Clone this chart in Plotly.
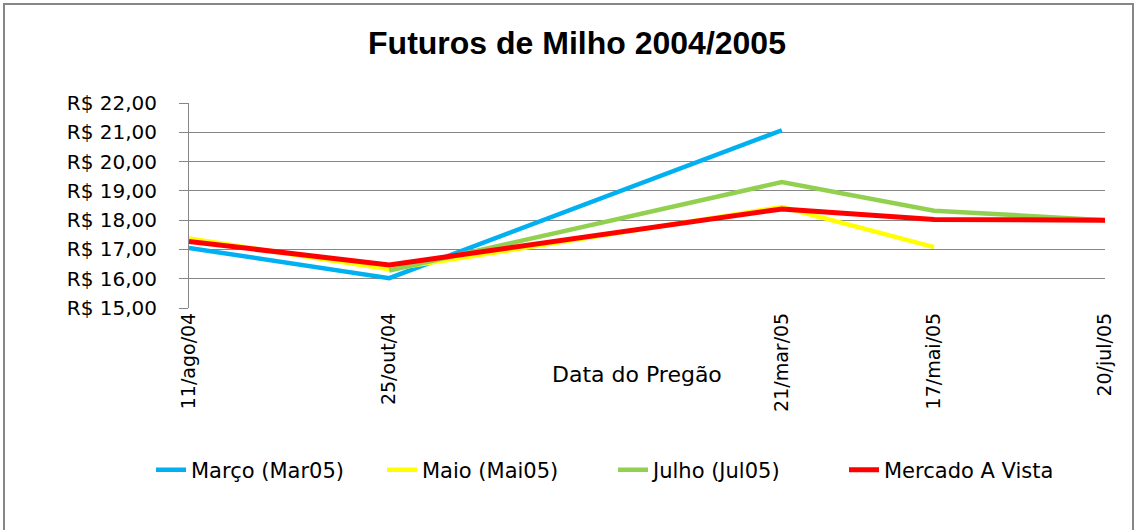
import plotly.graph_objects as go

dates = ["2004-08-11", "2004-10-25", "2005-03-21", "2005-05-17", "2005-07-20"]
date_labels = ["11/ago/04", "25/out/04", "21/mar/05", "17/mai/05", "20/jul/05"]

marco = [17.05, 16.02, 21.07, None, None]
maio = [17.37, 16.32, 18.45, 17.08, None]
julho = [None, 16.28, 19.30, 18.32, 18.00]
mercado = [17.27, 16.47, 18.38, 18.02, 18.00]

series_names = ["Março (Mar05)", "Maio (Mai05)", "Julho (Jul05)", "Mercado A Vista"]
series_values = [marco, maio, julho, mercado]
series_colors = ["#00B0F0", "#FFFF00", "#92D050", "#FF0000"]
series_widths = [4.5, 4.5, 4.5, 5]

y_ticks = [15, 16, 17, 18, 19, 20, 21, 22]
y_labels = ["R$ %d,00" % v for v in y_ticks]

W, H = 1135, 530
L, R, T, B = 189, 30, 103, 222
pw, ph = W - L - R, H - T - B

def px(x):
    return (x - L) / pw

def py(y):
    return (H - B - y) / ph

fig = go.Figure()
for name, vals, col, wd in zip(series_names, series_values, series_colors, series_widths):
    fig.add_trace(go.Scatter(
        x=dates, y=vals, name=name, mode="lines",
        line=dict(color=col, width=wd), connectgaps=False,
    ))

grid = "#868686"
fig.update_layout(
    width=W, height=H,
    margin=dict(l=L, r=R, t=T, b=B, autoexpand=False),
    paper_bgcolor="white", plot_bgcolor="white",
    title=dict(
        text="<b>Futuros de Milho 2004/2005</b>",
        font=dict(family="Liberation Sans", size=32, color="black"),
        x=577 / W, xanchor="center", xref="container",
        y=1 - 43 / H, yanchor="middle", yref="container",
    ),
    xaxis=dict(
        type="date",
        range=[dates[0], dates[-1]],
        tickmode="array", tickvals=dates, ticktext=date_labels,
        tickangle=-90,
        showgrid=False, zeroline=False,
        showline=False,
        ticks="",
        tickfont=dict(family="DejaVu Sans", size=19, color="black"),
    ),
    yaxis=dict(
        range=[15, 22],
        tickmode="array", tickvals=y_ticks, ticktext=y_labels,
        showgrid=True, gridcolor=grid, gridwidth=1,
        zeroline=False,
        showline=True, linecolor=grid, linewidth=1,
        ticks="outside", ticklen=9, tickcolor=grid,
        ticklabelstandoff=18,
        tickfont=dict(family="DejaVu Sans", size=20, color="black"),
    ),
    legend=dict(
        orientation="h",
        x=px(151), xanchor="left",
        y=py(470), yanchor="middle",
        font=dict(family="DejaVu Sans", size=21, color="black"),
        bgcolor="rgba(0,0,0,0)",
        itemwidth=30,
        entrywidth=186, entrywidthmode="pixels",
    ),
    annotations=[dict(
        text="Data do Pregão", xref="paper", yref="paper",
        x=px(637), y=py(374), xanchor="center", yanchor="middle",
        showarrow=False,
        font=dict(family="DejaVu Sans", size=22, color="black"),
    )],
    shapes=[dict(
        type="rect", xref="paper", yref="paper",
        x0=px(4), x1=px(1133), y0=py(4), y1=py(540),
        line=dict(color=grid, width=2), layer="below",
    )],
)

fig.write_html("out.html", config={"displayModeBar": False},
               post_script="document.body.style.margin='0';")
